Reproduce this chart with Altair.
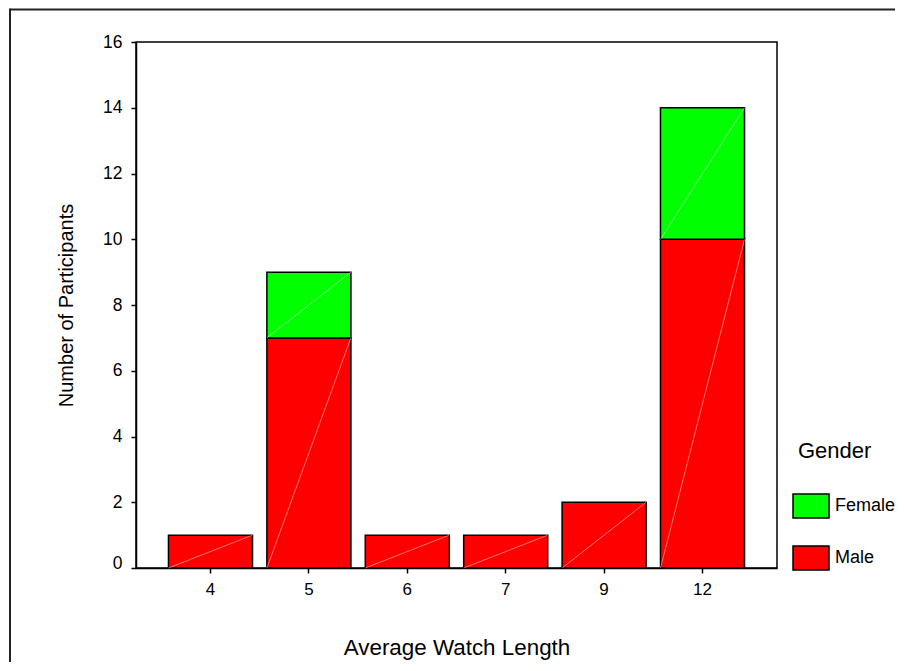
import altair as alt
import pandas as pd

lengths = ["4", "5", "6", "7", "9", "12"]
male = [1, 7, 1, 1, 2, 10]
female = [0, 2, 0, 0, 0, 4]
genders = ["Female", "Male"]
colors = ["#00FF00", "#FF0000"]
y_ticks = [0, 2, 4, 6, 8, 10, 12, 14, 16]

rows = []
for L, m, f in zip(lengths, male, female):
    if m:
        rows.append({"len": L, "gender": "Male", "count": m, "ord": 0})
    if f:
        rows.append({"len": L, "gender": "Female", "count": f, "ord": 1})
df = pd.DataFrame(rows)

FONT = "Liberation Sans"

base = alt.Chart(df).transform_stack(
    stack="count", groupby=["len"], as_=["y0", "y1"], sort=[alt.SortField("ord")]
)

xenc = alt.X(
    "len:N",
    sort=lengths,
    scale=alt.Scale(paddingInner=0.146, paddingOuter=0.33),
    axis=alt.Axis(
        title="Average Watch Length",
        titleFontSize=22.4,
        titleFontWeight="normal",
        titleX=320.5,
        titleY=79,
        titleBaseline="middle",
        labelAngle=0,
        labelFontSize=17,
        labelPadding=8,
        tickSize=5,
    ),
)

yenc = alt.Y(
    "y0:Q",
    scale=alt.Scale(domain=[0, 16], nice=False),
    axis=alt.Axis(
        title="Number of Participants",
        values=y_ticks,
        titleFontSize=20,
        titleFontWeight="normal",
        titleAngle=-90,
        titleX=-70,
        titleY=263,
        titleBaseline="middle",
        titleAlign="center",
        labelFontSize=17.5,
        labelPadding=9,
        tickSize=5,
        labelBaseline=alt.ExprRef(expr="datum.value === 0 ? 'alphabetic' : 'middle'"),
    ),
)

bars = base.mark_bar(stroke="black", strokeWidth=1.5).encode(
    x=xenc,
    y=yenc,
    y2="y1:Q",
    fill=alt.Fill(
        "gender:N",
        scale=alt.Scale(domain=genders, range=colors),
        legend=alt.Legend(
            title="Gender",
            orient="none",
            legendX=662,
            legendY=399,
            padding=0,
            titleFontSize=22,
            titleFontWeight="normal",
            titleAnchor="start",
            titleBaseline="top",
            titlePadding=30,
            symbolType="M-1.5,-1L1.5,-1L1.5,1L-1.5,1Z",
            symbolSize=576,
            symbolStrokeColor="black",
            symbolStrokeWidth=1.5,
            symbolOpacity=1,
            labelFontSize=18,
            labelOffset=11,
            rowPadding=22,
        ),
    ),
)

diag = base.mark_rule(color="white", opacity=0.45, strokeWidth=1, xOffset=-42, x2Offset=42).encode(
    x=alt.X("len:N", sort=lengths),
    x2="len:N",
    y=alt.Y("y0:Q"),
    y2="y1:Q",
)

frame_src = pd.DataFrame({"k": [0]})
frame_top = alt.Chart(frame_src).mark_rule(color="#222222", strokeWidth=2).encode(
    x=alt.value(-126), x2=alt.value(800), y=alt.value(-32.5)
)
frame_left = alt.Chart(frame_src).mark_rule(color="#222222", strokeWidth=2).encode(
    x=alt.value(-126), y=alt.value(-33.5), y2=alt.value(700)
)

chart = (
    alt.layer(bars, diag, frame_top, frame_left)
    .properties(
        width=641,
        height=526,
        autosize=alt.AutoSizeParams(type="none"),
        padding={"left": 128, "top": 34, "right": 118, "bottom": 94},
    )
    .configure(font=FONT)
    .configure_view(stroke="black", strokeWidth=1.5)
    .configure_axis(
        domainColor="black",
        domainWidth=1.5,
        tickColor="black",
        tickWidth=1.5,
        labelColor="black",
        titleColor="black",
        grid=False,
        labelFont=FONT,
        titleFont=FONT,
    )
    .configure_legend(labelFont=FONT, titleFont=FONT, labelColor="black", titleColor="black")
)

chart.save("out.html", embed_options={"renderer": "svg", "actions": False})
